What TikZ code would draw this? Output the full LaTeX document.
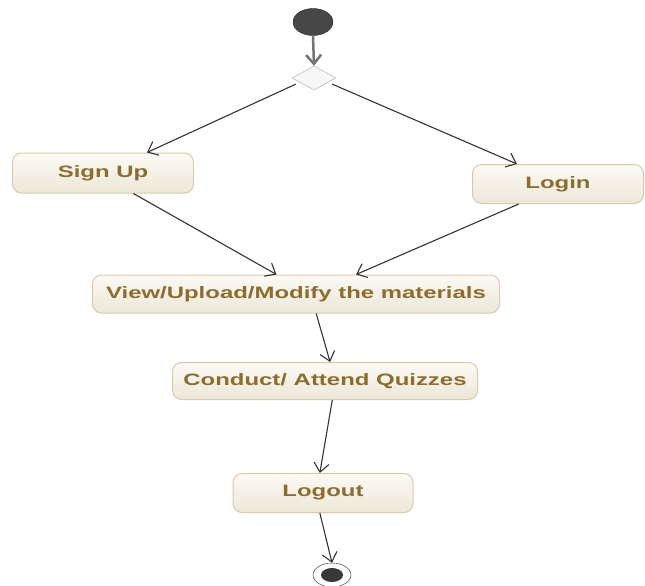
\documentclass[tikz,border=0pt]{standalone}
\usepackage{fontspec}
\setmainfont{Liberation Sans}
\usepackage{graphicx}
\usetikzlibrary{shapes.geometric,arrows.meta}

\definecolor{boxtext}{HTML}{8C6D30}
\definecolor{boxline}{HTML}{D6CBAE}
\definecolor{boxtop}{HTML}{FCFAF5}
\definecolor{boxbottom}{HTML}{EDE7D8}

\newcommand{\widetxt}[1]{\scalebox{1.45}[1]{#1}}

\begin{document}
\begin{tikzpicture}[x=1pt, y=-1pt, >={Straight Barb[length=9pt,width=15pt]}]

        \tikzstyle{block} = [rectangle, rounded corners=9pt, draw=boxline, line width=1pt, top color=boxtop, bottom color=boxbottom, text=boxtext, font=\fontsize{16.5}{18}\selectfont\bfseries, inner sep=0pt]
        \tikzstyle{start} = [ellipse, draw=black!85, fill=black!72, minimum width=40pt, minimum height=27pt, inner sep=0pt]
        \tikzstyle{choice} = [diamond, draw=black!35, fill=black!3, minimum width=44pt, minimum height=24pt, inner sep=0pt]
        \tikzstyle{stop} = [ellipse, draw=black!85, fill=white, minimum width=38pt, minimum height=24pt, inner sep=0pt,
            path picture={\fill[black!78] (path picture bounding box.center) ellipse (11pt and 7pt);}]
        \tikzstyle{flow} = [->, draw=black!80, line width=1.1pt]

        \useasboundingbox (0,0) rectangle (645,586);

        \node [start] (start) at (313,22) {};
        \node [choice] (choice) at (314,78) {};
        \node [block, minimum width=181pt, minimum height=40pt] (signup) at (103,173) {\widetxt{Sign Up}};
        \node [block, minimum width=171pt, minimum height=39pt] (login) at (558,184) {\widetxt{Login}};
        \node [block, minimum width=407pt, minimum height=38pt] (materials) at (296,294) {\widetxt{View/Upload/Modify the materials}};
        \node [block, minimum width=305pt, minimum height=37pt] (quizzes) at (325,381) {\widetxt{Conduct/ Attend Quizzes}};
        \node [block, minimum width=180pt, minimum height=39pt] (logout) at (323,493) {\widetxt{Logout}};
        \node [stop] (stop) at (332,575) {};

        \draw [->, draw=black!55, line width=2.5pt] (start.south) -- (choice.north);
        \draw [flow] ([xshift=-7pt]choice.south west) -- (signup.25);
        \draw [flow] ([xshift=7pt]choice.south east) -- (login.154);
        \draw [flow] (signup.-34) -- (materials.135);
        \draw [flow] (login.207) -- (materials.18);
        \draw [flow] (materials.-44) -- (quizzes.75);
        \draw [flow] (quizzes.-69) -- (logout.99);
        \draw [flow] (logout.-99) -- (stop.north);

    \end{tikzpicture}
\end{document}
